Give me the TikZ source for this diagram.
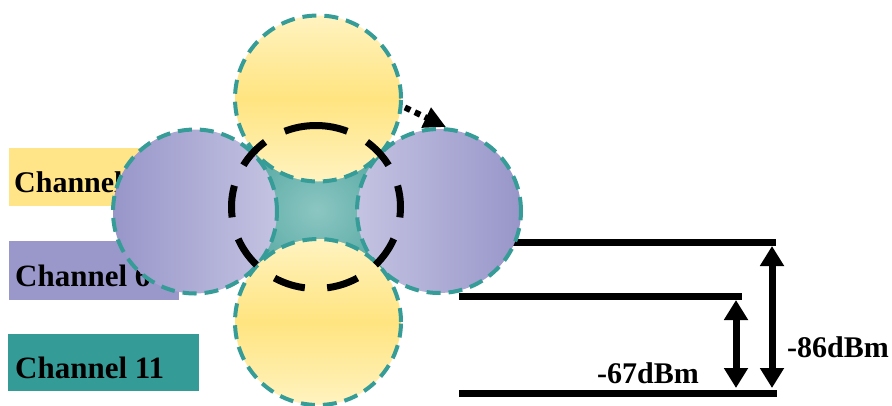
\documentclass[tikz,border=0pt]{standalone}
\usepackage{fontspec}
\setmainfont{Liberation Serif}
\usetikzlibrary{arrows.meta}
\definecolor{legyellow}{RGB}{255,229,135}
\definecolor{legpurple}{RGB}{154,152,202}
\definecolor{legteal}{RGB}{53,155,151}
\definecolor{ringteal}{RGB}{53,156,151}
\definecolor{ylight}{RGB}{255,243,192}
\definecolor{ydark}{RGB}{255,228,128}
\definecolor{plight}{RGB}{196,195,226}
\definecolor{pdark}{RGB}{152,150,201}
\definecolor{tlight}{RGB}{140,198,194}
\definecolor{tdark}{RGB}{62,155,149}
\tikzset{
  legtext/.style={font=\fontsize{31}{37}\selectfont\bfseries, inner sep=0pt, anchor=base west},
  cell/.style={circle, inner sep=0pt, outer sep=0pt, draw=ringteal, line width=4pt, dash pattern=on 14pt off 8pt},
  ycell/.style={cell, top color=ylight, bottom color=ylight, middle color=ydark},
  lpcell/.style={cell, left color=pdark, right color=plight},
  rpcell/.style={cell, left color=plight, right color=pdark},
  level/.style={line width=7pt, line cap=butt},
  dimarrow/.style={line width=7pt, {Triangle[width=23pt,length=20pt]}-{Triangle[width=23pt,length=20pt]}},
  bigring/.style={line width=7pt, dash pattern=on 32pt off 22.4pt},
  dbtext/.style={font=\fontsize{30}{36}\selectfont\bfseries, inner sep=0pt, anchor=base west}
}
\begin{document}
\begin{tikzpicture}[x=1pt, y=-1pt]
\useasboundingbox (0,0) rectangle (892,405);
% legend
\fill[legyellow] (9,148) rectangle (160,206);
\node[legtext, font=\fontsize{30}{36}\selectfont\bfseries] (t1) at (14,192) {Channel 1};
\fill[legpurple] (9,241) rectangle (179,300);
\node[legtext] (t6) at (15,286) {Channel 6};
\fill[legteal] (8,334) rectangle (199,391);
\node[legtext] (t11) at (15,378) {Channel 11};
% levels
\coordinate (l1a) at (480,242); \coordinate (l1b) at (776,242);
\coordinate (l2a) at (459,296); \coordinate (l2b) at (742,296);
\coordinate (l3a) at (459,393); \coordinate (l3b) at (777,393);
\draw[level] (l1a) -- (l1b);
\draw[level] (l2a) -- (l2b);
\draw[level] (l3a) -- (l3b);
\coordinate (a1t) at (736,300); \coordinate (a1b) at (736,388);
\coordinate (a2t) at (772,246); \coordinate (a2b) at (772,388);
\draw[dimarrow] (a1t) -- (a1b);
\draw[dimarrow] (a2t) -- (a2b);
\node[dbtext] (d67) at (597,383) {-67dBm};
\node[dbtext] (d86) at (787,357) {-86dBm};
% dotted move arrow
\coordinate (m1) at (385,98);
\coordinate (m2) at (446,127);
\draw[line width=6pt, dash pattern=on 6pt off 5pt, -{Triangle[width=21pt,length=22pt]}] (m1) -- (m2);
% cells
\coordinate (ctop) at (318,98.5);
\coordinate (cbot) at (318,322);
\coordinate (cleft) at (195,211.5);
\coordinate (cright) at (439,211);
\shade[inner color=tlight, outer color=tdark] (ctop) -- (cright) -- (cbot) -- (cleft) -- cycle;
\node[lpcell, minimum size=164pt] (left) at (cleft) {};
\node[rpcell, minimum size=164pt] (right) at (cright) {};
\node[ycell, minimum size=166pt] (top) at (ctop) {};
\node[ycell, minimum size=166pt] (bot) at (cbot) {};
% coverage ring
\coordinate (ringtop) at (316,125.5);
\draw[bigring] (ringtop) arc[start angle=-90, delta angle=360, x radius=84.5, y radius=81.5];
\end{tikzpicture}
\end{document}
